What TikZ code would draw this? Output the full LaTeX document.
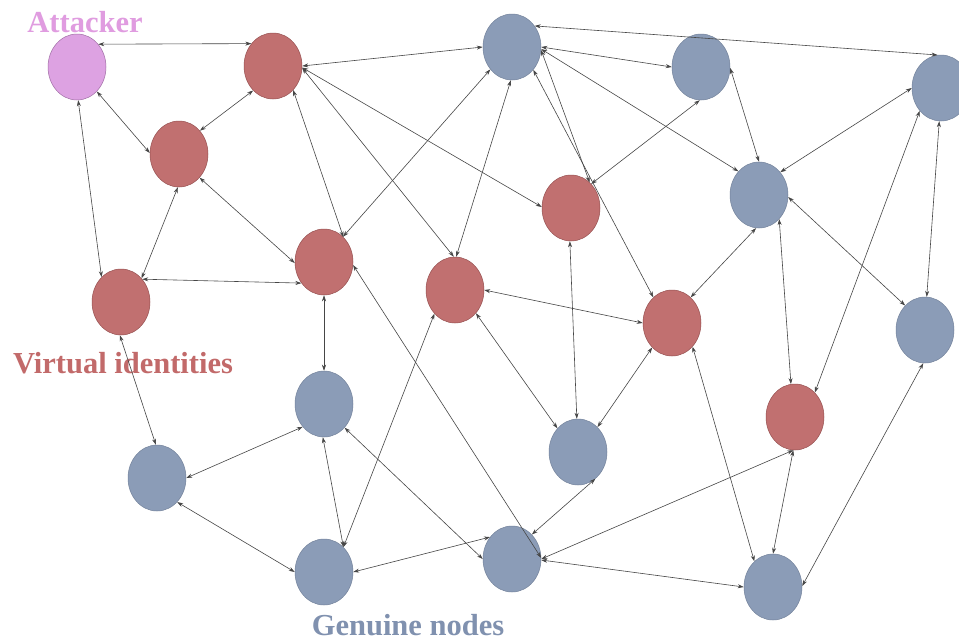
\documentclass[tikz,border=0pt]{standalone}
\usepackage{fontspec}
\setmainfont{Liberation Serif}
\usetikzlibrary{shapes.geometric,arrows.meta}

\definecolor{attfill}{RGB}{221,162,226}
\definecolor{attline}{RGB}{160,110,165}
\definecolor{atttext}{RGB}{224,156,224}
\definecolor{sybfill}{RGB}{193,112,112}
\definecolor{sybline}{RGB}{150,80,80}
\definecolor{sybtext}{RGB}{194,106,106}
\definecolor{honfill}{RGB}{139,156,183}
\definecolor{honline}{RGB}{115,130,155}
\definecolor{hontext}{RGB}{128,145,175}
\definecolor{linkcol}{RGB}{70,70,70}

\tikzset{
  vnode/.style={ellipse, minimum width=58pt, minimum height=66pt, inner sep=0pt, line width=0.5pt},
  attack/.style={vnode, fill=attfill, draw=attline},
  sybil/.style={vnode, fill=sybfill, draw=sybline},
  honest/.style={vnode, fill=honfill, draw=honline},
  link/.style={{Stealth[length=6pt,width=4pt]}-{Stealth[length=6pt,width=4pt]}, draw=linkcol, line width=0.6pt},
  caption/.style={font=\fontsize{30.5}{36}\selectfont\bfseries, inner sep=0pt, anchor=base}
}

\begin{document}
\begin{tikzpicture}[x=1pt,y=-1pt]
\clip (0,0) rectangle (959,641);
\fill[white] (0,0) rectangle (959,641);

% attacker
\node[attack] (att) at (77,67) {};

% virtual identities
\node[sybil] (r1) at (273,66) {};
\node[sybil] (r2) at (179,154) {};
\node[sybil] (r3) at (324,262) {};
\node[sybil] (r4) at (121,302) {};
\node[sybil] (r5) at (455,290) {};
\node[sybil] (r6) at (571,208) {};
\node[sybil] (r7) at (672,323) {};
\node[sybil] (r8) at (795,417) {};

% genuine nodes
\node[honest] (b1) at (512,47) {};
\node[honest] (b2) at (701,67) {};
\node[honest] (b3) at (941,88) {};
\node[honest] (b4) at (759,195) {};
\node[honest] (b5) at (925,330) {};
\node[honest] (b6) at (324,404) {};
\node[honest] (b7) at (157,478) {};
\node[honest] (b8) at (578,452) {};
\node[honest] (b9) at (324,572) {};
\node[honest] (b10) at (512,559) {};
\node[honest] (b11) at (773,587) {};

% labels
\node[caption, text=atttext] (lab1) at (85,32) {Attacker};
\node[caption, text=sybtext] (lab2) at (123,373) {Virtual identities};
\node[caption, text=hontext] (lab3) at (408,635) {Genuine nodes};

% links
\draw[link] (att.47) -- (r1.134);
\draw[link] (att.-51) -- (r2.178);
\draw[link] (att.-88) -- (r4.128);
\draw[link] (r1.231) -- (r2.48);
\draw[link] (r2.268) -- (r4.49);
\draw[link] (r2.-49) -- (r3.182);
\draw[link] (r4.47) -- (r3.223);
\draw[link] (r1.-50) -- (r3.52);
\draw[link] (r1.0) -- (b1.180);
\draw[link] (r1.-3) -- (r6.178);
\draw[link] (r1.-4) -- (r5.92);
\draw[link] (b1.226) -- (r3.53);
\draw[link] (b1.268) -- (r5.88);
\draw[link] (b1.-6) -- (r6.54);
\draw[link] (b1.-47) -- (r7.126);
\draw[link] (b1.43) -- (b3.96);
\draw[link] (b1.0) -- (b2.180);
\draw[link] (b1.-4) -- (b4.131);
\draw[link] (r6.50) -- (b2.268);
\draw[link] (r5.0) -- (r7.180);
\draw[link] (r6.268) -- (b8.92);
\draw[link] (r3.270) -- (b6.90);
\draw[link] (r3.-6) -- (b10.2);
\draw[link] (r5.229) -- (b9.52);
\draw[link] (r5.-48) -- (b8.131);
\draw[link] (r7.231) -- (b8.52);
\draw[link] (b6.268) -- (b9.52);
\draw[link] (b6.-49) -- (b10.180);
\draw[link] (b9.0) -- (b10.135);
\draw[link] (b8.-57) -- (b10.51);
\draw[link] (b10.0) -- (r8.267);
\draw[link] (b10.-2) -- (b11.180);
\draw[link] (b7.0) -- (b6.227);
\draw[link] (b7.-50) -- (b9.180);
\draw[link] (r4.268) -- (b7.92);
\draw[link] (r7.-49) -- (b11.126);
\draw[link] (r8.267) -- (b11.90);
\draw[link] (b5.267) -- (b11.2);
\draw[link] (b4.-50) -- (r8.97);
\draw[link] (b3.227) -- (r8.51);
\draw[link] (b3.267) -- (b5.87);
\draw[link] (b4.-4) -- (b5.129);
\draw[link] (b4.47) -- (b3.180);
\draw[link] (b2.-2) -- (b4.90);
\draw[link] (b4.265) -- (r7.54);
\end{tikzpicture}
\end{document}
